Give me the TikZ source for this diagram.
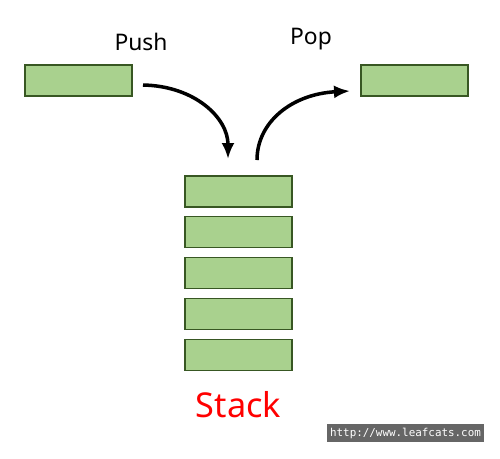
\documentclass[tikz,border=0pt]{standalone}
\usepackage{fontspec}
\setmainfont{Noto Sans}
\newfontfamily\urlfont{DejaVu Sans Mono}
\usetikzlibrary{arrows.meta}

\definecolor{boxfill}{HTML}{A9D18E}
\definecolor{boxline}{HTML}{385723}
\definecolor{markgray}{HTML}{666666}

\tikzset{
  cell/.style={draw=boxline, fill=boxfill, line width=0.6pt,
    minimum width=2.14cm, minimum height=0.62cm, inner sep=0pt},
  flow/.style={line width=2pt, -{Latex[length=3.2mm,width=2.6mm]}},
  word/.style={font=\fontsize{13}{15}\selectfont}
}

\begin{document}
\begin{tikzpicture}[x=0.02cm, y=-0.02cm]
    \useasboundingbox (0,0) rectangle (500,458);
    \def\cx{238.5}
    \def\gap{40.8}

    % 入るデータと出るデータ
    \node[cell] (inbox) at (78.5,80.5) {};
    \node[cell] (outbox) at (414.5,80.5) {};
    \node[word] (pushlabel) at (141,42) {Push};
    \node[word] (poplabel) at (311,39) {Pop};

    % スタック本体
    \foreach \i in {0,...,4}
      \node[cell] (s\i) at (\cx,191.5+\i*\gap) {};
    \node[text=red, font=\fontsize{19.5}{23}\selectfont] (stacklabel) at (\cx,405) {Stack};

    % 矢印
    \coordinate (pushstart) at (143,85);
    \coordinate (pushend) at (228,159);
    \coordinate (popstart) at (257,160);
    \coordinate (popend) at (350,91);
    \draw[flow] (pushstart) .. controls (195,86) and (228,118) .. (pushend);
    \draw[flow] (popstart) .. controls (257,122) and (292,94) .. (popend);

    % 透かし
    \node[fill=markgray, text=white, inner sep=1.5pt, minimum width=3.02cm,
      minimum height=0.36cm, font=\urlfont\fontsize{6.2}{7}\selectfont] (mark) at (405.5,433) {http://www.leafcats.com};
\end{tikzpicture}
\end{document}
